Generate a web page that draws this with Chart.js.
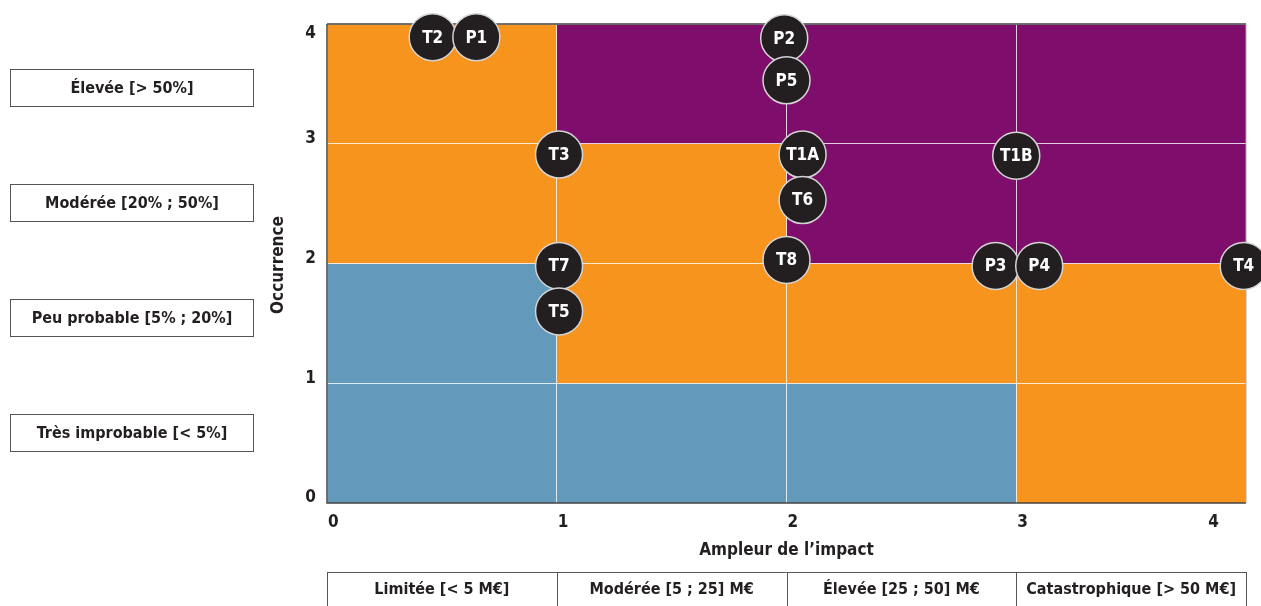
<!DOCTYPE html>
<html lang="fr">
<head>
<meta charset="utf-8">
<title>Matrice des risques</title>
<script src="https://cdn.jsdelivr.net/npm/chart.js@4.4.1/dist/chart.umd.min.js"></script>
<style>
  html, body { margin: 0; padding: 0; background: #fff; overflow: hidden; }
  canvas { display: block; }
</style>
</head>
<body>
<canvas id="riskChart" width="1261" height="606"></canvas>
<script>
// risk items
const pointNames = ['T2', 'P1', 'P2', 'P5', 'T3', 'T1A', 'T6', 'T1B', 'T8', 'T7', 'T5', 'P3', 'P4', 'T4'];
const impactValues = [0.46, 0.65, 1.99, 2.0, 1.01, 2.07, 2.07, 3.0, 2.0, 1.01, 1.01, 2.91, 3.1, 3.99];
const occurrenceValues = [3.89, 3.89, 3.88, 3.53, 2.91, 2.91, 2.53, 2.9, 2.03, 1.98, 1.6, 1.98, 1.98, 1.98];

// axis ticks + level labels
const impactTicks = [0, 1, 2, 3, 4];
const occurrenceTicks = [0, 1, 2, 3, 4];
const impactLevels = ['Limitée [< 5 M€]', 'Modérée [5 ; 25] M€', 'Élevée [25 ; 50] M€', 'Catastrophique [> 50 M€]'];
const occurrenceLevels = ['Élevée [> 50%]', 'Modérée [20% ; 50%]', 'Peu probable [5% ; 20%]', 'Très improbable [< 5%]'];

// zone of each cell, rows from occurrence 0-1 up to 3-4
const riskRows = [
  ['low', 'low', 'low', 'mid'],
  ['low', 'mid', 'mid', 'mid'],
  ['mid', 'mid', 'high', 'high'],
  ['mid', 'high', 'high', 'high']
];
const zoneColors = { low: '#639abc', mid: '#f7941e', high: '#7e0d6b' };

const FONT = "'Liberation Sans Narrow', 'DejaVu Sans Condensed', 'Arial Narrow', sans-serif";
const INK = '#231f20';

const zonesPlugin = {
  id: 'zones',
  beforeDraw(chart) {
    const { ctx, scales: { x, y } } = chart;
    ctx.save();
    riskRows.forEach((row, r) => {
      row.forEach((zone, c) => {
        const x0 = x.getPixelForValue(c), x1 = x.getPixelForValue(c + 1);
        const y0 = y.getPixelForValue(r + 1), y1 = y.getPixelForValue(r);
        ctx.fillStyle = zoneColors[zone];
        ctx.fillRect(x0, y0, x1 - x0, y1 - y0);
      });
    });
    ctx.restore();
  }
};

const framePlugin = {
  id: 'frame',
  beforeDatasetsDraw(chart) {
    const { ctx, chartArea: a } = chart;
    ctx.save();
    ctx.strokeStyle = '#444';
    ctx.lineWidth = 1.5;
    ctx.beginPath();
    ctx.moveTo(a.left, a.top); ctx.lineTo(a.right, a.top);
    ctx.moveTo(a.left, a.top); ctx.lineTo(a.left, a.bottom);
    ctx.lineTo(a.right, a.bottom);
    ctx.stroke();
    ctx.strokeStyle = '#aaa';
    ctx.lineWidth = 1;
    ctx.beginPath();
    ctx.moveTo(a.right, a.top); ctx.lineTo(a.right, a.bottom);
    ctx.stroke();
    ctx.restore();
  },
  afterDraw(chart) {
    const { ctx, chartArea: a, scales: { x, y } } = chart;
    ctx.save();
    ctx.fillStyle = INK;
    ctx.textBaseline = 'middle';
    ctx.font = 'bold 17px ' + FONT;

    // x tick labels (last one sits inside the plot end)
    impactTicks.forEach((t, i) => {
      const px = x.getPixelForValue(t);
      if (i === impactTicks.length - 1) {
        ctx.textAlign = 'right';
        ctx.fillText(String(t), px - 27, 523);
      } else {
        ctx.textAlign = 'left';
        ctx.fillText(String(t), px + 1, 523);
      }
    });

    // y tick labels, sitting just above their line (top one below)
    ctx.textAlign = 'right';
    occurrenceTicks.forEach((t, i) => {
      const py = y.getPixelForValue(t);
      const dy = i === occurrenceTicks.length - 1 ? 10 : -5;
      ctx.fillText(String(t), a.left - 11, py + dy);
    });

    ctx.textAlign = 'center';
    // axis titles
    ctx.fillText('Ampleur de l\u2019impact', (a.left + a.right) / 2, 551);
    ctx.save();
    ctx.translate(279, 265);
    ctx.rotate(-Math.PI / 2);
    ctx.fillText('Occurrence', 0, 0);
    ctx.restore();

    // occurrence level boxes on the left
    ctx.font = 'bold 16px ' + FONT;
    ctx.strokeStyle = '#555';
    ctx.lineWidth = 1;
    occurrenceLevels.forEach((txt, i) => {
      const top = 69.5 + i * 115;
      ctx.strokeRect(10.5, top, 243, 37);
      ctx.fillText(txt, 132, top + 19);
    });

    // impact level boxes at the bottom
    ctx.beginPath();
    ctx.moveTo(x.getPixelForValue(0), 572.5);
    ctx.lineTo(x.getPixelForValue(4), 572.5);
    impactTicks.forEach(t => {
      const px = Math.round(x.getPixelForValue(t)) + 0.5;
      ctx.moveTo(px, 572);
      ctx.lineTo(px, 606);
    });
    ctx.stroke();
    impactLevels.forEach((txt, i) => {
      const cx = (x.getPixelForValue(i) + x.getPixelForValue(i + 1)) / 2;
      ctx.fillText(txt, cx, 590);
    });
    ctx.restore();
  }
};

const pointLabelsPlugin = {
  id: 'pointLabels',
  afterDatasetsDraw(chart) {
    const { ctx } = chart;
    const meta = chart.getDatasetMeta(0);
    ctx.save();
    ctx.fillStyle = '#fff';
    ctx.font = 'bold 17px ' + FONT;
    ctx.textAlign = 'center';
    ctx.textBaseline = 'middle';
    meta.data.forEach((pt, i) => {
      ctx.fillText(pointNames[i], pt.x, pt.y + 1);
    });
    ctx.restore();
  }
};

const ctx = document.getElementById('riskChart').getContext('2d');

new Chart(ctx, {
  type: 'scatter',
  data: {
    datasets: [{
      label: 'Risques',
      data: impactValues.map((v, i) => ({ x: v, y: occurrenceValues[i] })),
      backgroundColor: INK,
      borderColor: '#d4d4d4',
      borderWidth: 1.5,
      pointRadius: 23.5,
      pointHoverRadius: 23.5,
      clip: false
    }]
  },
  options: {
    responsive: false,
    animation: false,
    layout: { autoPadding: false, padding: { top: 24, right: 15, left: 0, bottom: 0 } },
    plugins: {
      legend: { display: false },
      tooltip: {
        callbacks: {
          label: function(context) {
            return pointNames[context.dataIndex];
          }
        }
      }
    },
    scales: {
      x: {
        type: 'linear',
        min: 0,
        max: 4,
        afterFit: s => { s.height = 103; },
        afterBuildTicks: s => { s.ticks = impactTicks.map(v => ({ value: v })); },
        grid: { color: 'rgba(255,255,255,0.75)', lineWidth: 1, drawTicks: false },
        border: { display: false },
        ticks: { display: false }
      },
      y: {
        type: 'linear',
        min: 0,
        max: 4,
        afterFit: s => { s.width = 327; },
        afterBuildTicks: s => { s.ticks = occurrenceTicks.map(v => ({ value: v })); },
        grid: { color: 'rgba(255,255,255,0.75)', lineWidth: 1, drawTicks: false },
        border: { display: false },
        ticks: { display: false }
      }
    }
  },
  plugins: [zonesPlugin, framePlugin, pointLabelsPlugin]
});
</script>
</body>
</html>
